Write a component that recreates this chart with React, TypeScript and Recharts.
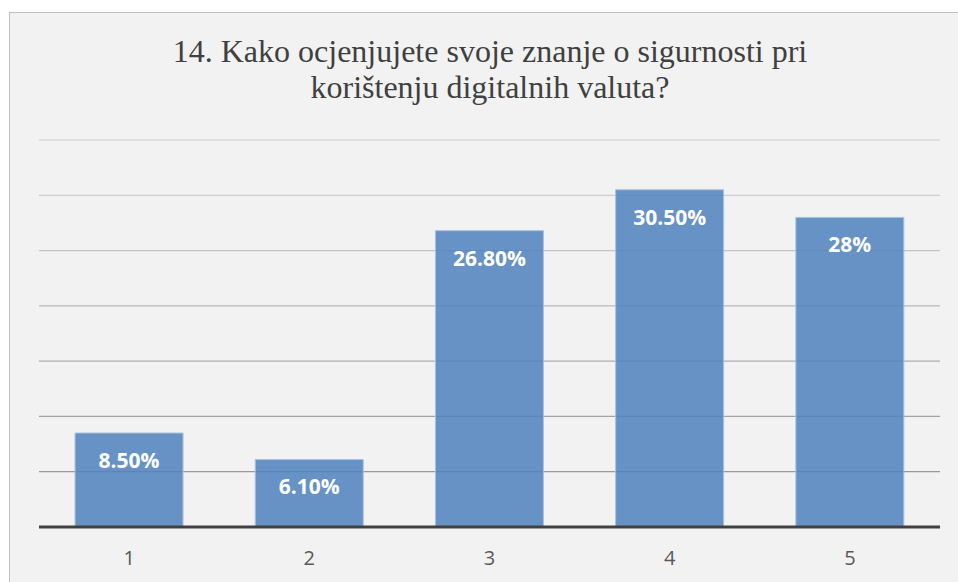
import React from "react";
import { BarChart, Bar, XAxis, YAxis, CartesianGrid, LabelList } from "recharts";

const categories = ["1", "2", "3", "4", "5"];
const values = [8.5, 6.1, 26.8, 30.5, 28];
const valueLabels = ["8.50%", "6.10%", "26.80%", "30.50%", "28%"];
const yTicks = [0, 5, 10, 15, 20, 25, 30, 35];
const titleLines = [
  "14. Kako ocjenjujete svoje znanje o sigurnosti pri",
  "korištenju digitalnih valuta?",
];

const data = categories.map((c, i) => ({ name: c, value: values[i], label: valueLabels[i] }));

const mix = (y: number) => {
  const t = Math.max(0, Math.min(1, (y - 138) / (470 - 138)));
  const v = Math.round(0xd9 + (0x99 - 0xd9) * t);
  return `rgb(${v},${v},${v})`;
};

const GridLine = (props: any) => {
  const { x1, x2, y1, y2 } = props;
  if (y1 > 520) return <g key={props.key} />;
  return <line key={props.key} x1={x1} x2={x2} y1={y1} y2={y2} stroke={mix(y1)} strokeWidth={1.3} />;
};

export default function App() {
  return (
    <div style={{ position: "fixed", left: 0, top: 0, width: 958, height: 582, overflow: "hidden", background: "#ffffff" }}>
      <div
        style={{
          position: "absolute",
          left: 9,
          top: 12,
          width: 980,
          height: 600,
          border: "1px solid #c0c0c0",
          background: "#f2f2f2",
          boxSizing: "border-box",
        }}
      />
      {titleLines.map((t, i) => (
        <div
          key={i}
          style={{
            position: "absolute",
            left: 40,
            width: 900,
            top: 33 + i * 36,
            textAlign: "center",
            fontFamily: "'Liberation Serif', 'Times New Roman', serif",
            fontSize: 32,
            lineHeight: "36px",
            color: "#404040",
          }}
        >
          {t}
        </div>
      ))}
      <div style={{ position: "absolute", left: 0, top: 0 }}>
        <BarChart
          width={958}
          height={582}
          data={data}
          margin={{ top: 140, right: 18, bottom: 25, left: 39 }}
          barCategoryGap="20%"
        >
          <CartesianGrid vertical={false} horizontal={GridLine as any} />
          <YAxis hide domain={[0, 35]} ticks={yTicks} />
          <XAxis
            dataKey="name"
            height={30}
            tickLine={false}
            tickSize={0}
            tickMargin={24}
            axisLine={{ stroke: "#404040", strokeWidth: 3 }}
            tick={{ fill: "#595959", fontSize: 20, fontFamily: "'Open Sans', sans-serif" }}
          />
          <Bar
            dataKey="value"
            fill="#4f81bd"
            fillOpacity={0.85}
            stroke="#a9c2e2"
            strokeWidth={1}
            isAnimationActive={false}
          >
            <LabelList
              dataKey="label"
              position="insideTop"
              offset={20}
              fill="#ffffff"
              style={{ fontFamily: "'Open Sans', sans-serif", fontWeight: 700, fontSize: 21 }}
            />
          </Bar>
        </BarChart>
      </div>
    </div>
  );
}
